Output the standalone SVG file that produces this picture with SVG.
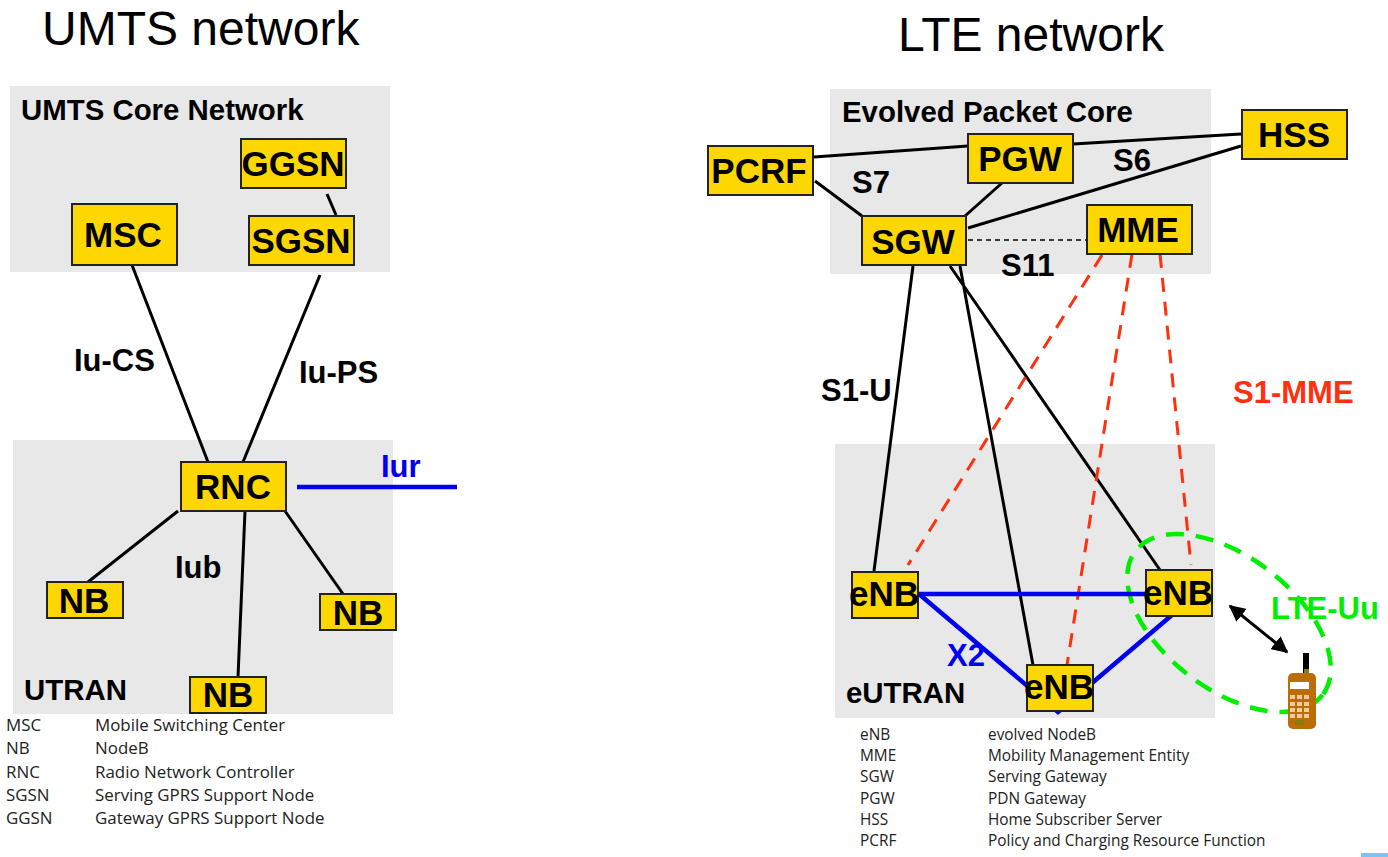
<svg xmlns="http://www.w3.org/2000/svg" width="1388" height="857" viewBox="0 0 1388 857">
<style>
text{font-family:"Liberation Sans",Arial,sans-serif;fill:#000}
.t{font-size:48px}
.n{font-size:35px;font-weight:bold;text-anchor:middle}
.l{font-size:29.4px;font-weight:bold}
.i{font-size:31px;font-weight:bold}
.g{fill:#e8e8e8}
.box{fill:#ffd700;stroke:#222;stroke-width:2}
.k{stroke:#000;stroke-width:3;fill:none}
.bl{stroke:#0000f0;stroke-width:4.5;fill:none}
.rd{stroke:#ff3010;stroke-width:3;stroke-dasharray:14 10;fill:none}
text.leg{font-family:"Open Sans","Noto Sans",sans-serif;font-size:16.9px;fill:#222}
text.lr{font-size:15.4px}
</style>
<defs>
<marker id="a" viewBox="0 0 10 10" refX="9" refY="5" markerWidth="5.5" markerHeight="5.5" orient="auto-start-reverse"><path d="M0 0L10 5L0 10z" fill="#000"/></marker>
</defs>
<rect class="g" x="10" y="86" width="380" height="186"/>
<rect class="g" x="13" y="440" width="380" height="274"/>
<rect class="g" x="830" y="89" width="381" height="185"/>
<rect class="g" x="835" y="444" width="380" height="274"/>
<rect x="1361" y="853" width="27" height="4" fill="#7fc4ea"/>
<g id="connectors">
<path class="k" d="M132 265L208 462M320 275L243 462M327 194L336 215M178 511L88 582M245 511L238 677M285 511L343 594"/>
<path class="bl" d="M297 487H457"/>
<path class="k" d="M814 157L968 146M1073 144L1241 134M815 181L862 216M1002 183L965 216M968 228L1241 146M913 266L874 571M960 266L1033 665M950 266L1160 570"/>
<path d="M968 240H1087" stroke="#000" stroke-width="1.5" stroke-dasharray="5 4" fill="none"/>
<ellipse cx="1229" cy="623" rx="118" ry="66" transform="rotate(37.6 1229 623)" fill="none" stroke="#00ee00" stroke-width="4.5" stroke-dasharray="18 12"/>
<path class="rd" d="M1102 255L908 565M1132 254L1067 665M1160 254L1191 565"/>
<path class="bl" d="M919 594H1146M919 594L1058 712L1172 615"/>
<path d="M1230 606L1287 652" stroke="#000" stroke-width="3" fill="none" marker-start="url(#a)" marker-end="url(#a)"/>
</g>
<g id="MSC"><rect class="box" x="72" y="204" width="105" height="61"/><text class="n" x="123" y="247">MSC</text></g>
<g id="GGSN"><rect class="box" x="241" y="139" width="105" height="49"/><text class="n" x="293" y="176">GGSN</text></g>
<g id="SGSN"><rect class="box" x="249" y="216" width="105" height="49"/><text class="n" x="301" y="253">SGSN</text></g>
<g id="RNC"><rect class="box" x="181" y="462" width="105" height="49"/><text class="n" x="233" y="499">RNC</text></g>
<g id="NB1"><rect class="box" x="47" y="582" width="76" height="36"/><text class="n" x="84" y="613">NB</text></g>
<g id="NB2"><rect class="box" x="320" y="594" width="76" height="36"/><text class="n" x="358" y="625">NB</text></g>
<g id="NB3"><rect class="box" x="190" y="677" width="76" height="36"/><text class="n" x="228" y="707">NB</text></g>
<g id="PCRF"><rect class="box" x="708" y="146" width="105" height="49"/><text class="n" x="759" y="183">PCRF</text></g>
<g id="PGW"><rect class="box" x="968" y="134" width="105" height="49"/><text class="n" x="1020" y="171">PGW</text></g>
<g id="HSS"><rect class="box" x="1242" y="110" width="105" height="49"/><text class="n" x="1294" y="147">HSS</text></g>
<g id="SGW"><rect class="box" x="862" y="216" width="104" height="49"/><text class="n" x="913" y="254">SGW</text></g>
<g id="MME"><rect class="box" x="1087" y="205" width="105" height="49"/><text class="n" x="1138" y="242">MME</text></g>
<g id="eNB1"><rect class="box" x="852" y="572" width="66" height="46"/><text class="n" x="884" y="606">eNB</text></g>
<g id="eNB2"><rect class="box" x="1027" y="665" width="66" height="46"/><text class="n" x="1059" y="699">eNB</text></g>
<g id="eNB3"><rect class="box" x="1146" y="570" width="66" height="46"/><text class="n" x="1178" y="605">eNB</text></g>
<g id="UE">
<rect x="1303" y="653" width="6" height="20" fill="#000"/>
<rect x="1304" y="669" width="5" height="6" fill="#8a7a10"/>
<rect x="1288" y="673" width="28" height="56" rx="5" fill="#b96f05"/>
<rect x="1290" y="682" width="19" height="7" fill="#fff"/>
<path d="M1290 695h5v4h-5zM1297 695h5v4h-5zM1304 695h5v4h-5zM1290 702h5v4h-5zM1297 702h5v4h-5zM1304 702h5v4h-5zM1290 708h5v4h-5zM1297 708h5v4h-5zM1304 708h5v4h-5zM1290 714h5v4h-5zM1297 714h5v4h-5zM1304 714h5v4h-5z" fill="#f5c9a0"/>
<rect x="1295" y="720" width="9" height="5" rx="1" fill="#8a7a10"/>
</g>
<text class="t" x="42" y="45">UMTS network</text>
<text class="t" x="898" y="51">LTE network</text>
<text class="l" x="21" y="120">UMTS Core Network</text>
<text class="l" x="842" y="122">Evolved Packet Core</text>
<text class="l" x="24" y="700">UTRAN</text>
<text class="l" x="846" y="703">eUTRAN</text>
<text class="i" x="74" y="371">Iu-CS</text>
<text class="i" x="299" y="383">Iu-PS</text>
<text class="i" x="381" y="477" style="fill:#0000f0">Iur</text>
<text class="i" x="175" y="578">Iub</text>
<text class="i" x="852" y="193">S7</text>
<text class="i" x="1113" y="171">S6</text>
<text class="i" x="1001" y="276">S11</text>
<text class="i" x="821" y="401">S1-U</text>
<text class="i" x="1233" y="403" style="fill:#ff3010">S1-MME</text>
<text class="i" x="947" y="666" style="fill:#0000f0">X2</text>
<text class="i" x="1271" y="619" style="fill:#00ee00">LTE-Uu</text>
<g id="legend">
<text class="leg" x="6" y="731">MSC</text><text class="leg" x="95" y="731">Mobile Switching Center</text>
<text class="leg" x="6" y="754">NB</text><text class="leg" x="95" y="754">NodeB</text>
<text class="leg" x="6" y="778">RNC</text><text class="leg" x="95" y="778">Radio Network Controller</text>
<text class="leg" x="6" y="801">SGSN</text><text class="leg" x="95" y="801">Serving GPRS Support Node</text>
<text class="leg" x="6" y="824">GGSN</text><text class="leg" x="95" y="824">Gateway GPRS Support Node</text>
<text class="leg lr" x="860" y="740">eNB</text><text class="leg lr" x="988" y="740">evolved NodeB</text>
<text class="leg lr" x="860" y="761">MME</text><text class="leg lr" x="988" y="761">Mobility Management Entity</text>
<text class="leg lr" x="860" y="782">SGW</text><text class="leg lr" x="988" y="782">Serving Gateway</text>
<text class="leg lr" x="860" y="804">PGW</text><text class="leg lr" x="988" y="804">PDN Gateway</text>
<text class="leg lr" x="860" y="825">HSS</text><text class="leg lr" x="988" y="825">Home Subscriber Server</text>
<text class="leg lr" x="860" y="846">PCRF</text><text class="leg lr" x="988" y="846">Policy and Charging Resource Function</text>
</g>
</svg>
